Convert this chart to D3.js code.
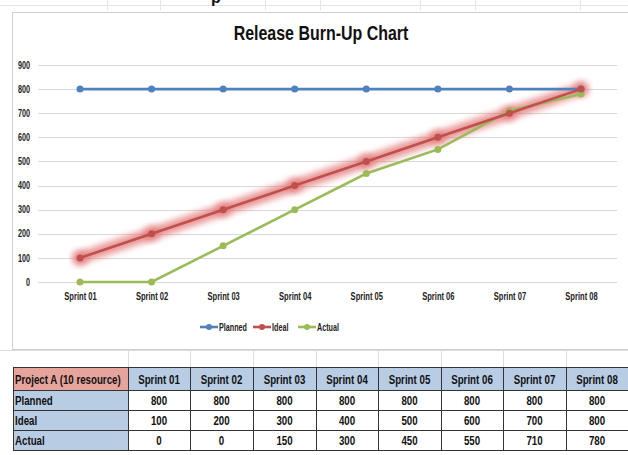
<!DOCTYPE html>
<html>
<head>
<meta charset="utf-8">
<script src="https://cdn.jsdelivr.net/npm/d3@7"></script>
<style>
  body { margin: 0; background: #fff; }
  svg { display: block; font-family: "Liberation Sans", Arial, sans-serif; }
</style>
</head>
<body>
<svg width="628" height="455"></svg>
<script>
const sprints = ['Sprint 01', 'Sprint 02', 'Sprint 03', 'Sprint 04', 'Sprint 05', 'Sprint 06', 'Sprint 07', 'Sprint 08'];
const planned = [800, 800, 800, 800, 800, 800, 800, 800];
const ideal = [100, 200, 300, 400, 500, 600, 700, 800];
const actual = [0, 0, 150, 300, 450, 550, 710, 780];
const yTicks = [0, 100, 200, 300, 400, 500, 600, 700, 800, 900];
const seriesNames = ['Planned', 'Ideal', 'Actual'];
const tableHead = 'Project A (10 resource)';

const colors = {Planned: '#4f81bd', Ideal: '#c0504d', Actual: '#9bbb59'};
const series = [
  {name: 'Planned', values: planned},
  {name: 'Ideal', values: ideal},
  {name: 'Actual', values: actual}
];

// calibri-ish look: squeeze each text horizontally
function squeeze(sel, k) {
  sel.each(function() {
    const w = this.getComputedTextLength();
    d3.select(this).attr('textLength', w * k).attr('lengthAdjust', 'spacingAndGlyphs');
  });
}

const svg = d3.select('svg');

const defs = svg.append('defs');
const f = defs.append('filter').attr('id', 'glow').attr('x', '-20%').attr('y', '-20%').attr('width', '140%').attr('height', '140%');
f.append('feGaussianBlur').attr('stdDeviation', 3);

// faint spreadsheet grid behind everything
const sheet = svg.append('g').attr('stroke', '#e4e4e4').attr('stroke-width', 1);
[107, 160, 265, 320, 420, 475, 580].forEach(x => sheet.append('line').attr('x1', x + 0.5).attr('x2', x + 0.5).attr('y1', 0).attr('y2', 10));
sheet.append('line').attr('x1', 0).attr('x2', 628).attr('y1', 5.5).attr('y2', 5.5);
svg.append('text').attr('x', 211).attr('y', 3).attr('font-size', 16).attr('font-weight', 'bold').attr('fill', '#111').text('p');

// chart frame
svg.append('rect').attr('x', 12.5).attr('y', 12.5).attr('width', 620).attr('height', 337)
  .attr('fill', '#fff').attr('stroke', '#d0d0d0');

svg.append('text').attr('x', 321).attr('y', 40).attr('text-anchor', 'middle')
  .attr('font-size', 21).attr('font-weight', 'bold').attr('fill', '#111')
  .text('Release Burn-Up Chart')
  .call(squeeze, 0.76);

const x = d3.scalePoint().domain(sprints).range([80, 581]);
const y = d3.scaleLinear().domain([0, 900]).range([282, 65]);

// gridlines
svg.append('g').selectAll('line').data(yTicks).join('line')
  .attr('x1', 38).attr('x2', 617)
  .attr('y1', d => Math.round(y(d)) + 0.5).attr('y2', d => Math.round(y(d)) + 0.5)
  .attr('stroke', '#d9d9d9');

const yAxis = svg.append('g').attr('transform', 'translate(36,0)')
  .call(d3.axisLeft(y).tickValues(yTicks).tickSize(0).tickPadding(6));
yAxis.select('.domain').remove();
yAxis.selectAll('text').attr('font-size', 10).attr('font-weight', 'bold').attr('fill', '#222').attr('font-family', null)
  .call(squeeze, 0.72);

const xAxis = svg.append('g').attr('transform', 'translate(0,282)')
  .call(d3.axisBottom(x).tickSize(0).tickPadding(11));
xAxis.select('.domain').remove();
xAxis.selectAll('text').attr('font-size', 10.5).attr('font-weight', 'bold').attr('fill', '#222').attr('font-family', null)
  .call(squeeze, 0.72);

const line = d3.line().x((d, i) => x(sprints[i])).y(d => y(d));

// glow under Ideal
svg.append('path').datum(ideal).attr('d', line).attr('fill', 'none')
  .attr('stroke', '#e06a6a').attr('stroke-opacity', 0.7).attr('stroke-width', 12)
  .attr('stroke-linecap', 'round').attr('filter', 'url(#glow)');
svg.append('g').selectAll('circle').data(ideal).join('circle')
  .attr('cx', (d, i) => x(sprints[i])).attr('cy', d => y(d)).attr('r', 8)
  .attr('fill', '#e06a6a').attr('opacity', 0.55).attr('filter', 'url(#glow)');

const drawOrder = [series[0], series[2], series[1]];
drawOrder.forEach(s => {
  svg.append('path').datum(s.values).attr('d', line).attr('fill', 'none')
    .attr('stroke', colors[s.name]).attr('stroke-width', 2.6);
  svg.append('g').selectAll('circle').data(s.values).join('circle')
    .attr('cx', (d, i) => x(sprints[i])).attr('cy', d => y(d)).attr('r', 3.5)
    .attr('fill', colors[s.name]);
});

// legend
const legX = [200, 253, 298];
const leg = svg.append('g').attr('transform', 'translate(0,327)');
seriesNames.forEach((n, i) => {
  const g = leg.append('g').attr('transform', `translate(${legX[i]},0)`);
  g.append('line').attr('x1', 0).attr('x2', 18).attr('y1', 0).attr('y2', 0).attr('stroke', colors[n]).attr('stroke-width', 2.6);
  g.append('circle').attr('cx', 9).attr('cy', 0).attr('r', 3).attr('fill', colors[n]);
  g.append('text').attr('x', 19).attr('y', 3.5).attr('font-size', 10).attr('font-weight', 'bold').attr('fill', '#222').text(n)
    .call(squeeze, 0.72);
});

// spreadsheet area under the chart
const colEdges = [13, 128, 190, 253, 316, 378, 441, 503, 566, 628];
const sheet2 = svg.append('g').attr('stroke', '#dcdcdc');
sheet2.append('line').attr('x1', 0).attr('x2', 628).attr('y1', 350.5).attr('y2', 350.5);
colEdges.slice(1, -1).forEach(e => sheet2.append('line').attr('x1', e + 0.5).attr('x2', e + 0.5).attr('y1', 350).attr('y2', 367));

// table
const rowTop = [367, 390, 410, 430, 450];
const rows = [
  [tableHead].concat(sprints),
  ['Planned'].concat(planned),
  ['Ideal'].concat(ideal),
  ['Actual'].concat(actual)
];
const tbl = svg.append('g');
rows.forEach((r, ri) => {
  r.forEach((v, ci) => {
    const x0 = colEdges[ci], x1 = colEdges[ci + 1];
    const y0 = rowTop[ri], y1 = rowTop[ri + 1];
    let fill = '#fff';
    if (ri === 0 && ci === 0) fill = '#e6a49c';
    else if (ri === 0 || ci === 0) fill = '#b8cce4';
    tbl.append('rect').attr('x', x0 + 0.5).attr('y', y0 + 0.5).attr('width', x1 - x0).attr('height', y1 - y0)
      .attr('fill', fill).attr('stroke', '#333').attr('stroke-width', 1);
    tbl.append('text')
      .attr('x', ci === 0 ? x0 + 2 : (x0 + x1) / 2)
      .attr('y', (y0 + y1) / 2 + 5)
      .attr('text-anchor', ci === 0 ? 'start' : 'middle')
      .attr('font-size', 13.5).attr('font-weight', 'bold').attr('fill', '#111')
      .text(v)
      .call(squeeze, 0.72);
  });
});
</script>
</body>
</html>
